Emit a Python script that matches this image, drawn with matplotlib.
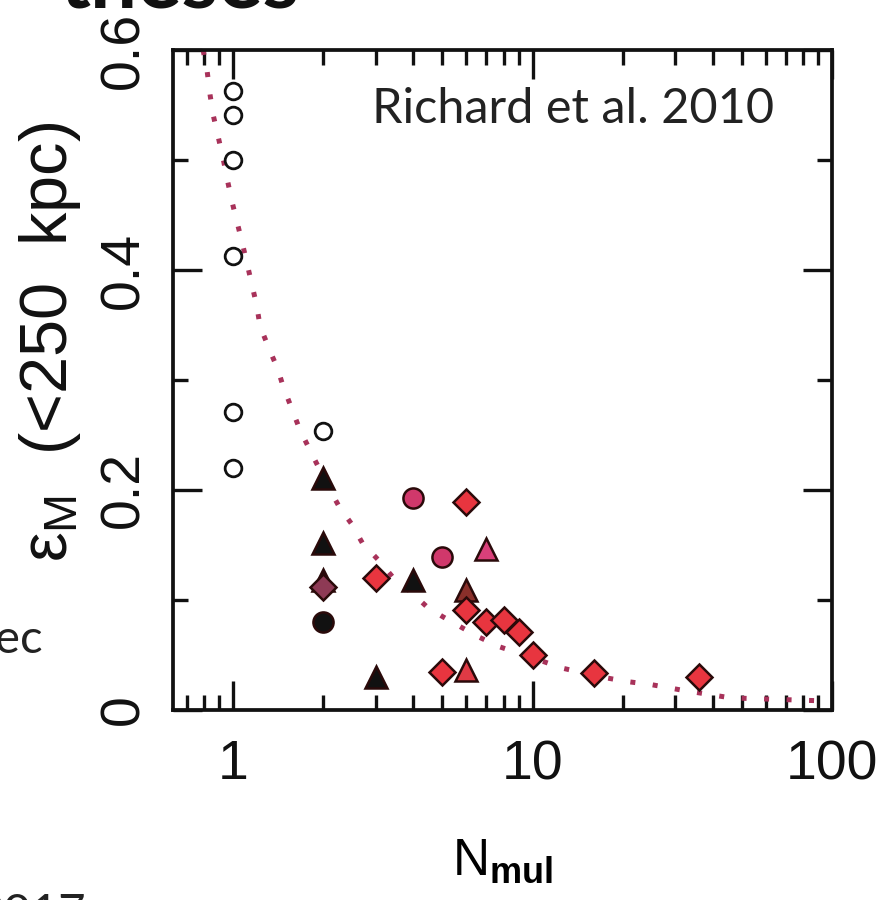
import matplotlib
matplotlib.use('Agg')
import matplotlib.pyplot as plt
from matplotlib.ticker import LogLocator, NullFormatter

plt.rcParams['font.family'] = ['Liberation Sans', 'DejaVu Sans']
plt.rcParams['mathtext.fontset'] = 'custom'
plt.rcParams['mathtext.rm'] = 'Liberation Sans'
plt.rcParams['mathtext.it'] = 'Liberation Sans'
plt.rcParams['mathtext.bf'] = 'Liberation Sans:bold'

# ---- data ----
# dotted model curve
curve_x = [0.794, 0.819, 0.838, 0.858, 0.891, 0.926, 0.955, 0.992, 1.03, 1.07, 1.11,
           1.157, 1.2, 1.23, 1.33, 1.41, 1.468, 1.58, 1.67, 1.8, 2.1, 2.27, 2.49, 2.7,
           3.04, 3.41, 3.9, 4.43, 5.0, 5.8, 6.66, 7.75, 10.5, 12.6, 17, 20.5, 25, 31.6,
           46, 78, 100]
curve_y = [0.600, 0.581, 0.559, 0.541, 0.5215, 0.5015, 0.483, 0.462, 0.444, 0.426, 0.4075,
           0.386, 0.3675, 0.349, 0.326, 0.310, 0.2945, 0.272, 0.255, 0.237, 0.2006, 0.184, 0.169, 0.152,
           0.137, 0.121, 0.108, 0.094, 0.085, 0.075, 0.066, 0.0575, 0.0455, 0.038, 0.030, 0.026, 0.023, 0.018,
           0.011, 0.009, 0.008]

open_x = [1, 1, 1, 1, 1, 1, 2]
open_y = [0.563, 0.541, 0.500, 0.413, 0.271, 0.220, 0.254]

black_tri_x = [2, 2, 2, 3, 4]
black_tri_y = [0.211, 0.152, 0.118, 0.030, 0.118]

black_circ_x = [2]
black_circ_y = [0.080]

mauve_dia_x = [2]
mauve_dia_y = [0.112]

brown_tri_x = [6]
brown_tri_y = [0.109]

pink_circ_x = [4, 5]
pink_circ_y = [0.193, 0.1395]

pink_tri_x = [7]
pink_tri_y = [0.146]

red_dia_x = [3, 6, 6, 7, 8, 9, 10, 16, 36, 5]
red_dia_y = [0.120, 0.189, 0.091, 0.080, 0.082, 0.071, 0.050, 0.034, 0.030, 0.035]

red_tri_x = [6]
red_tri_y = [0.036]

fig = plt.figure(figsize=(8.83, 9.0), dpi=100)
ax = fig.add_axes([173/883, 1-710/900, (832-173)/883, (710-50)/900])

ax.plot(curve_x, curve_y, color='#A8325A', lw=3.6, linestyle=(0, (1, 3.5)), zorder=2)

edge = '#2a0a0a'
kw = dict(linestyle='none', markeredgecolor=edge, markeredgewidth=1.8, zorder=3)
ax.plot(open_x, open_y, marker='o', ms=12, markerfacecolor='white',
        linestyle='none', markeredgecolor='#111111', markeredgewidth=2.0, zorder=3)
ax.plot(black_tri_x, black_tri_y, marker='^', ms=16.5, markerfacecolor='#111111', **kw)
ax.plot(black_circ_x, black_circ_y, marker='o', ms=14.5, markerfacecolor='#111111', **kw)
ax.plot(brown_tri_x, brown_tri_y, marker='^', ms=16.5, markerfacecolor='#8A2F2A', **kw)
ax.plot(mauve_dia_x, mauve_dia_y, marker='D', ms=13, markerfacecolor='#8E3A55', **kw)
ax.plot(pink_circ_x, pink_circ_y, marker='o', ms=14.5, markerfacecolor='#D0386B', **kw)
ax.plot(pink_tri_x, pink_tri_y, marker='^', ms=16.5, markerfacecolor='#D9407A', **kw)
ax.plot(red_tri_x, red_tri_y, marker='^', ms=16.5, markerfacecolor='#E03A45', **kw)
ax.plot(red_dia_x, red_dia_y, marker='D', ms=13, markerfacecolor='#E8353F', **kw)

ax.set_xscale('log')
ax.set_xlim(0.63, 100)
ax.set_ylim(0, 0.6)

ax.set_xticks([1, 10, 100], ['1', '10', '100'])
ax.xaxis.set_minor_locator(LogLocator(base=10, subs=range(2, 10)))
ax.xaxis.set_minor_formatter(NullFormatter())
ax.set_yticks([0, 0.2, 0.4, 0.6], ['0', '0.2', '0.4', '0.6'], rotation=90, va='center')
ax.set_yticks([0.1, 0.3, 0.5], minor=True)

ax.tick_params(which='both', direction='in', top=True, right=True, width=2.4, colors='#111111')
ax.tick_params(which='major', length=21)
ax.tick_params(which='minor', length=11)
ax.tick_params(axis='x', which='major', labelsize=40, pad=21)
ax.tick_params(axis='y', which='major', labelsize=40, pad=16)
for s in ax.spines.values():
    s.set_linewidth(2.7)
    s.set_color('#111111')

ax.set_xlabel(r'N$_{\mathbf{mul}}$', fontsize=37, labelpad=33)
fig.text(50/883, 1-342/900, r'$\varepsilon_{\mathrm{M}}$  (<250  kpc)', rotation=90,
         ha='center', va='center', fontsize=48, color='#111111')

# slide fragments around the figure
fig.text(372/883, 1-123/900, 'Richard et al. 2010', fontsize=35, family=['Lato', 'DejaVu Sans'],
         color='#222222', va='baseline', ha='left')
fig.text(43/883, 1-653/900, 'ec', fontsize=34, family=['Lato', 'DejaVu Sans'],
         color='#222222', va='baseline', ha='right')
fig.text(86/883, 1-893/900, '2017', fontsize=34, family=['Lato', 'DejaVu Sans'],
         color='#222222', va='top', ha='right')
fig.text(300/883, 1-8/900, 'theses', fontsize=60, family=['Lato', 'DejaVu Sans'],
         fontweight='bold', color='#111111', va='baseline', ha='right')

fig.savefig('out.png', dpi=100, facecolor='white')
